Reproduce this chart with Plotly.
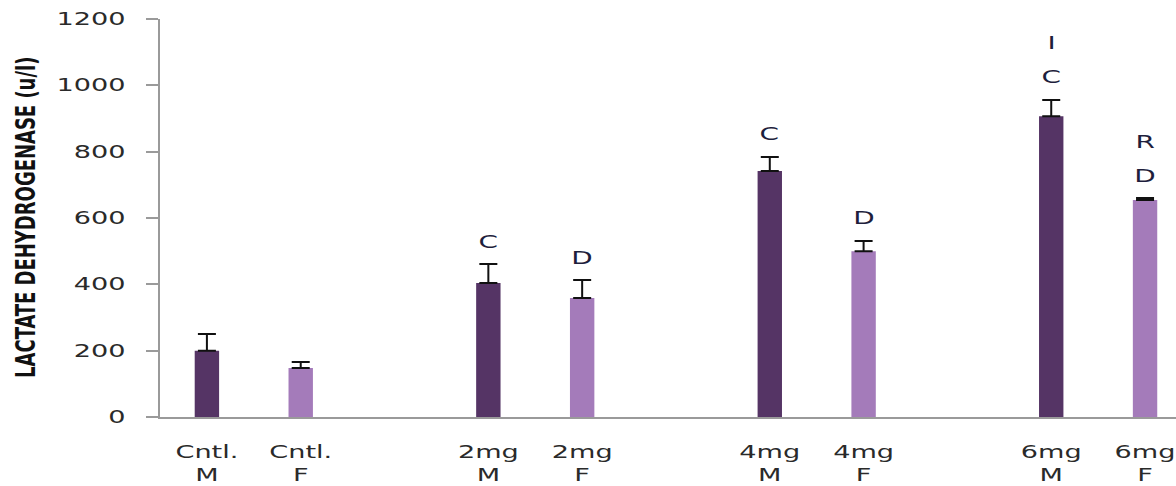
import plotly.graph_objects as go

# Lactate dehydrogenase activity (u/l) by dose group and sex
groups = ["Cntl.", "2mg", "4mg", "6mg"]
sexes = ["M", "F"]
ldh_male = [200, 404, 742, 907]
ldh_female = [148, 359, 500, 654]
err_male = [50, 57, 42, 49]
err_female = [18, 54, 31, 6]
# significance letters, listed bottom to top
marks_male = [[], ["C"], ["C"], ["C", "I"]]
marks_female = [[], ["D"], ["D"], ["D", "R"]]
y_ticks = [0, 200, 400, 600, 800, 1000, 1200]

COLOR_M = "#553465"
COLOR_F = "#A47BBA"
TICK_FONT = dict(family="DejaVu Sans, Verdana, sans-serif", size=17.5, color="#2a2a2a")

# each dose group takes three slots: male, female, gap
x_male = [3 * i for i in range(len(groups))]
x_female = [3 * i + 1 for i in range(len(groups))]

fig = go.Figure()
for xs, vals, errs, col in [
    (x_male, ldh_male, err_male, COLOR_M),
    (x_female, ldh_female, err_female, COLOR_F),
]:
    fig.add_trace(go.Bar(
        x=xs, y=vals, width=0.26,
        marker=dict(color=col, line=dict(width=0)),
        error_y=dict(type="data", symmetric=False, array=errs,
                     arrayminus=[0] * len(errs),
                     color="#111111", thickness=2, width=9),
        showlegend=False,
    ))

annotations = []
for xs, vals, errs, marks in [
    (x_male, ldh_male, err_male, marks_male),
    (x_female, ldh_female, err_female, marks_female),
]:
    for x, v, e, letters in zip(xs, vals, errs, marks):
        for j, letter in enumerate(letters):
            annotations.append(dict(
                x=x, y=v + e, xref="x", yref="y", text=letter,
                showarrow=False, yanchor="middle", yshift=23 + 34 * j,
                font=dict(family="DejaVu Sans, Verdana, sans-serif",
                          size=18, color="#1e1e3c"),
            ))

annotations.append(dict(
    x=0, y=0.5, xref="paper", yref="paper", xshift=-135,
    text="LACTATE DEHYDROGENASE (u/l)", textangle=-90, showarrow=False,
    xanchor="center", yanchor="middle",
    font=dict(family="DejaVu Sans Condensed, Liberation Sans Narrow, sans-serif",
              size=20, color="#111111", weight="bold"),
))

tick_vals = x_male + x_female
tick_text = [f"{g}<br>{sexes[0]}" for g in groups] + [f"{g}<br>{sexes[1]}" for g in groups]

fig.update_layout(
    width=1176, height=486,
    margin=dict(l=160, r=0, t=19, b=69),
    paper_bgcolor="white", plot_bgcolor="white",
    annotations=annotations,
    xaxis=dict(
        range=[-0.5, 10.33], tickmode="array", tickvals=tick_vals, ticktext=tick_text,
        showgrid=False, zeroline=False, showline=True, linecolor="#9a9a9a", linewidth=2,
        ticks="", tickfont=TICK_FONT, ticklabelstandoff=18,
    ),
    yaxis=dict(
        range=[0, 1200], tickmode="array", tickvals=y_ticks,
        showgrid=False, zeroline=False, showline=True, linecolor="#9a9a9a", linewidth=2,
        ticks="outside", ticklen=12, tickwidth=2, tickcolor="#9a9a9a",
        tickfont=TICK_FONT, ticklabelstandoff=17,
    ),
)

# Widen the short labels (ticks and letters) horizontally around their anchor,
# and thicken the rotated axis title across its width, for the stretched lettering.
stretch_js = """
var gd = document.getElementById('{plot_id}');
function rescale(el, sx, sy) {
  var b = el.getBBox();
  var anchor = el.getAttribute('text-anchor');
  var px = anchor === 'end' ? b.x + b.width : (anchor === 'start' ? b.x : b.x + b.width / 2);
  var py = b.y + b.height / 2;
  var t = el.getAttribute('transform') || '';
  el.setAttribute('transform', t + ' translate(' + px + ',' + py + ') scale(' + sx + ',' + sy +
    ') translate(' + (-px) + ',' + (-py) + ')');
}
gd.querySelectorAll('g.xtick text, g.ytick text, g.annotation text.annotation-text')
  .forEach(function (el) {
    if (el.textContent.length > 8) {
      rescale(el, 1, 1.37);
    } else {
      rescale(el, 1.55, 1);
    }
  });
"""

fig.write_html("out.html", post_script=stretch_js)
